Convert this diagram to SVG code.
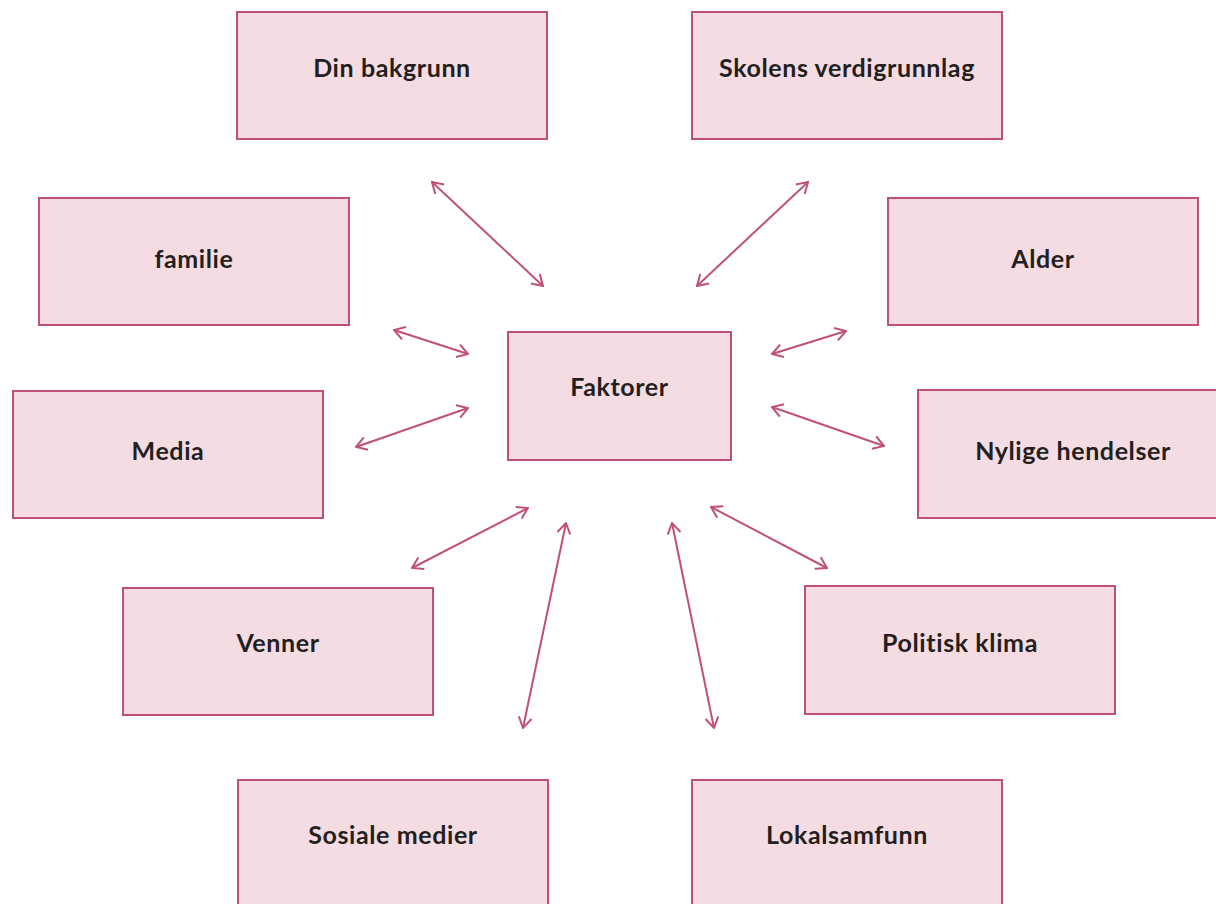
<svg xmlns="http://www.w3.org/2000/svg" width="1216" height="904" viewBox="0 0 1216 904">
<style>
.box{fill:#f5dbe2;stroke:#c0507a;stroke-width:2}
.lbl{font-family:Lato,"Open Sans","Liberation Sans",sans-serif;font-weight:bold;font-size:25px;letter-spacing:0.6px;fill:#231f20;text-anchor:middle}
.conn{stroke:#c0507a;stroke-width:2;fill:none;marker-start:url(#arr);marker-end:url(#arr)}
</style>
<defs>
<marker id="arr" viewBox="0 0 16 16" refX="14.5" refY="8" markerWidth="16" markerHeight="16" markerUnits="userSpaceOnUse" orient="auto-start-reverse">
<path d="M4,1.5 L14.5,8 L4,14.5" fill="none" stroke="#c0507a" stroke-width="2"/>
</marker>
</defs>
<rect width="1216" height="904" fill="#ffffff"/>
<g id="connectors">
<line class="conn" x1="432" y1="182" x2="543" y2="286"/>
<line class="conn" x1="808" y1="182" x2="697" y2="286"/>
<line class="conn" x1="394" y1="330" x2="468" y2="354"/>
<line class="conn" x1="356" y1="447" x2="468" y2="408"/>
<line class="conn" x1="846" y1="331" x2="772" y2="354"/>
<line class="conn" x1="772" y1="407" x2="884" y2="446"/>
<line class="conn" x1="412" y1="568" x2="528" y2="508"/>
<line class="conn" x1="523" y1="728" x2="566" y2="523"/>
<line class="conn" x1="672" y1="523" x2="714" y2="728"/>
<line class="conn" x1="711" y1="507" x2="827" y2="568"/>
</g>
<g id="din-bakgrunn"><rect class="box" x="237" y="12" width="310" height="127"/><text class="lbl" x="392" y="77">Din bakgrunn</text></g>
<g id="skolens-verdigrunnlag"><rect class="box" x="692" y="12" width="310" height="127"/><text class="lbl" x="847" y="77">Skolens verdigrunnlag</text></g>
<g id="familie"><rect class="box" x="39" y="198" width="310" height="127"/><text class="lbl" x="194" y="268">familie</text></g>
<g id="alder"><rect class="box" x="888" y="198" width="310" height="127"/><text class="lbl" x="1043" y="268">Alder</text></g>
<g id="faktorer"><rect class="box" x="508" y="332" width="223" height="128"/><text class="lbl" x="619.5" y="396">Faktorer</text></g>
<g id="media"><rect class="box" x="13" y="391" width="310" height="127"/><text class="lbl" x="168" y="460">Media</text></g>
<g id="nylige-hendelser"><rect class="box" x="918" y="390" width="310" height="128"/><text class="lbl" x="1073" y="460">Nylige hendelser</text></g>
<g id="venner"><rect class="box" x="123" y="588" width="310" height="127"/><text class="lbl" x="278" y="652">Venner</text></g>
<g id="politisk-klima"><rect class="box" x="805" y="586" width="310" height="128"/><text class="lbl" x="960" y="652">Politisk klima</text></g>
<g id="sosiale-medier"><rect class="box" x="238" y="780" width="310" height="127"/><text class="lbl" x="393" y="844">Sosiale medier</text></g>
<g id="lokalsamfunn"><rect class="box" x="692" y="780" width="310" height="127"/><text class="lbl" x="847" y="844">Lokalsamfunn</text></g>
</svg>
